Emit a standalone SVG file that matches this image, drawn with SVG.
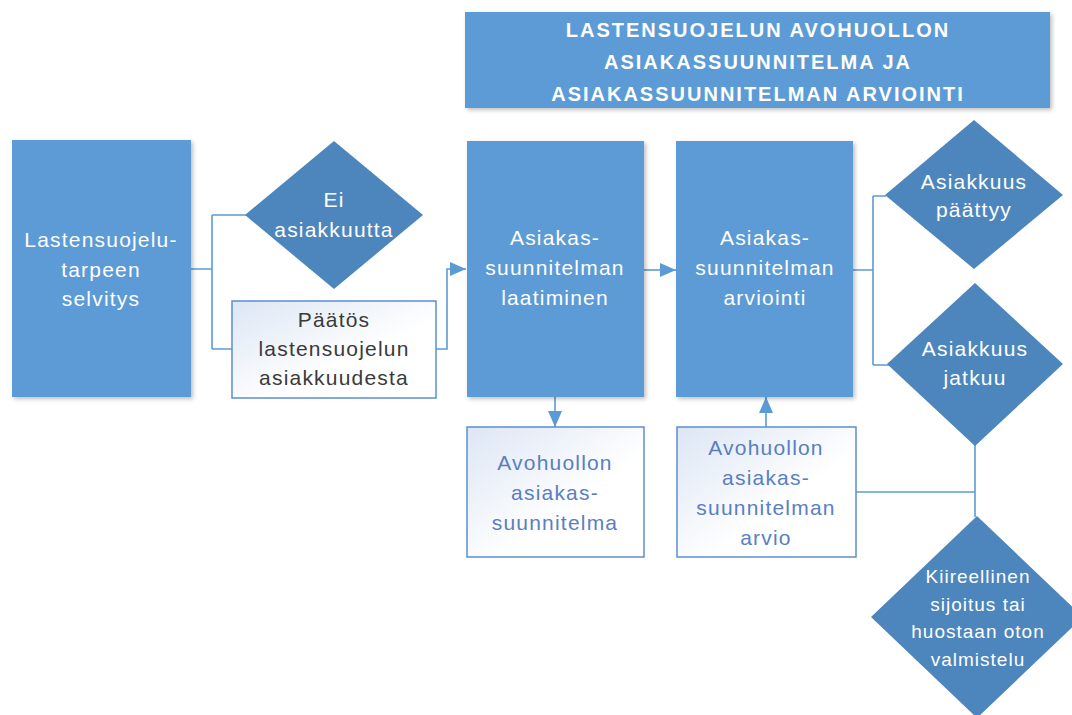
<svg xmlns="http://www.w3.org/2000/svg" width="1072" height="715" viewBox="0 0 1072 715">
<defs>
<style>
.blue{fill:#5B9BD5;filter:url(#sh)}
.dia{fill:#4D86BC}
.light{fill:url(#lg);stroke:#5B8FD0;stroke-width:1.5}
.conn{fill:none;stroke:#5B9BD5;stroke-width:1.6}
text{font-family:"Liberation Sans",Arial,sans-serif;font-size:21px;text-anchor:middle;letter-spacing:1.2px}
.w{fill:#FFFFFF}
.b{fill:#5A7EC2}
.d{fill:#3A3A3A}
.t{font-weight:bold;font-size:20px;letter-spacing:2px}
.s{font-size:19px;letter-spacing:1px}
</style>
<linearGradient id="lg" x1="0" y1="0" x2="1" y2="1">
<stop offset="0" stop-color="#DCE6F4"/>
<stop offset="0.6" stop-color="#FFFFFF"/>
</linearGradient>
<filter id="sh" x="-10%" y="-10%" width="125%" height="125%">
<feDropShadow dx="2" dy="2" stdDeviation="2" flood-color="#000000" flood-opacity="0.25"/>
</filter>
<marker id="ah" markerUnits="userSpaceOnUse" markerWidth="17" markerHeight="14" refX="16" refY="7" orient="auto">
<path d="M0,0 L16,7 L0,14 z" fill="#5B9BD5"/>
</marker>
</defs>

<g id="connectors">
<path class="conn" d="M191,269 H212 M212,215 V349 M212,215 H246 M212,349 H232"/>
<path class="conn" d="M436,349 H447 V269 H466" marker-end="url(#ah)"/>
<path class="conn" d="M644,270 H676" marker-end="url(#ah)"/>
<path class="conn" d="M853,270 H873 M873,196 V365 M873,196 H886 M873,365 H889"/>
<path class="conn" d="M555,397 V427" marker-end="url(#ah)"/>
<path class="conn" d="M766,427 V397" marker-end="url(#ah)"/>
<path class="conn" d="M975,445 V517 M856,492 H975"/>
</g>

<g id="title">
<rect class="blue" x="465" y="12" width="585" height="96"/>
<text class="w t" x="758" y="37">LASTENSUOJELUN AVOHUOLLON</text>
<text class="w t" x="758" y="69">ASIAKASSUUNNITELMA JA</text>
<text class="w t" x="758" y="101">ASIAKASSUUNNITELMAN ARVIOINTI</text>
</g>

<g id="selvitys">
<rect class="blue" x="12" y="140" width="179" height="257"/>
<text class="w" x="101" y="247">Lastensuojelu-</text>
<text class="w" x="101" y="277">tarpeen</text>
<text class="w" x="101" y="306">selvitys</text>
</g>

<g id="ei-asiakkuutta">
<polygon class="dia" points="334,141 423,215 334,289 245,215"/>
<text class="w" x="334" y="207">Ei</text>
<text class="w" x="334" y="237">asiakkuutta</text>
</g>

<g id="paatos">
<rect class="light" x="232" y="301" width="204" height="97"/>
<text class="d" x="334" y="327">Päätös</text>
<text class="d" x="334" y="356">lastensuojelun</text>
<text class="d" x="334" y="385">asiakkuudesta</text>
</g>

<g id="laatiminen">
<rect class="blue" x="467" y="141" width="177" height="256"/>
<text class="w" x="555" y="245">Asiakas-</text>
<text class="w" x="555" y="275">suunnitelman</text>
<text class="w" x="555" y="305">laatiminen</text>
</g>

<g id="arviointi">
<rect class="blue" x="676" y="141" width="177" height="256"/>
<text class="w" x="765" y="245">Asiakas-</text>
<text class="w" x="765" y="275">suunnitelman</text>
<text class="w" x="765" y="305">arviointi</text>
</g>

<g id="paattyy">
<polygon class="dia" points="974,120 1063,195 974,269 885,195"/>
<text class="w" x="974" y="189">Asiakkuus</text>
<text class="w" x="974" y="217">päättyy</text>
</g>

<g id="jatkuu">
<polygon class="dia" points="975,283 1063,364 975,446 887,364"/>
<text class="w" x="975" y="356">Asiakkuus</text>
<text class="w" x="975" y="385">jatkuu</text>
</g>

<g id="kiireellinen">
<polygon class="dia" points="977,516 1083,617 977,718 871,617"/>
<text class="w s" x="978" y="583">Kiireellinen</text>
<text class="w s" x="978" y="611">sijoitus tai</text>
<text class="w s" x="978" y="638">huostaan oton</text>
<text class="w s" x="978" y="666">valmistelu</text>
</g>

<g id="asiakassuunnitelma">
<rect class="light" x="467" y="427" width="177" height="130"/>
<text class="b" x="555" y="470">Avohuollon</text>
<text class="b" x="555" y="500">asiakas-</text>
<text class="b" x="555" y="530">suunnitelma</text>
</g>

<g id="arvio">
<rect class="light" x="677" y="427" width="179" height="130"/>
<text class="b" x="766" y="455">Avohuollon</text>
<text class="b" x="766" y="485">asiakas-</text>
<text class="b" x="766" y="515">suunnitelman</text>
<text class="b" x="766" y="545">arvio</text>
</g>
</svg>
